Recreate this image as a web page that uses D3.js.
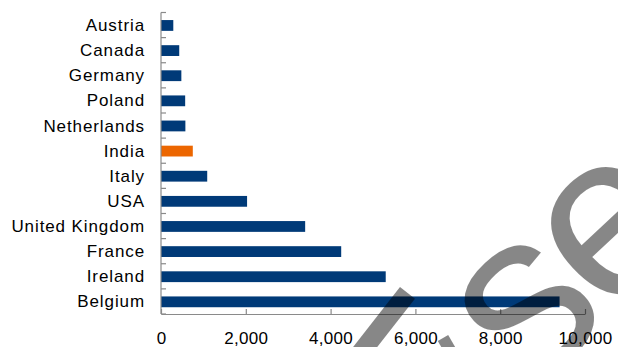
<!DOCTYPE html>
<html>
<head>
<meta charset="utf-8">
<script src="https://cdn.jsdelivr.net/npm/d3@7"></script>
<style>
  html, body { margin: 0; padding: 0; background: #fff; }
  svg { display: block; }
  text { font-family: "Liberation Sans", Arial, sans-serif; fill: #000; }
</style>
</head>
<body>
<svg id="chart" width="618" height="347"></svg>
<script>
// Countries, top to bottom
const categories = ["Austria", "Canada", "Germany", "Poland", "Netherlands", "India",
                    "Italy", "USA", "United Kingdom", "France", "Ireland", "Belgium"];
// Value per country
const values = [290, 430, 480, 570, 575, 750, 1090, 2030, 3400, 4250, 5300, 9400];
// Country drawn in the accent colour
const highlight = "India";
// Horizontal axis ticks
const tickValues = [0, 2000, 4000, 6000, 8000, 10000];

const svg = d3.select("#chart");
const plotLeft = 161, plotRight = 585, plotTop = 12.5, plotBottom = 314;

const x = d3.scaleLinear().domain([0, 10000]).range([plotLeft, plotRight]);
const y = d3.scaleBand().domain(categories).range([plotTop, plotBottom]).paddingInner(0).paddingOuter(0);
const barH = y.bandwidth() * 0.43;

const blue = "#003a78", orange = "#ec6600", axisGrey = "#8a8a8a";

// Bars
svg.append("g").selectAll("rect")
  .data(categories.map((c, i) => ({ c, v: values[i] })))
  .join("rect")
  .attr("x", x(0))
  .attr("y", d => y(d.c) + (y.bandwidth() - barH) / 2 + 0.4)
  .attr("width", d => x(d.v) - x(0))
  .attr("height", barH)
  .attr("fill", d => d.c === highlight ? orange : blue);

// Category axis: line plus ticks at band boundaries pointing inward
const gy = svg.append("g");
gy.append("line")
  .attr("x1", plotLeft).attr("x2", plotLeft)
  .attr("y1", plotTop).attr("y2", plotBottom)
  .attr("stroke", axisGrey).attr("stroke-width", 1.2);
const bounds = categories.map(c => y(c)).concat([plotBottom]);
gy.selectAll("line.tick").data(bounds).join("line")
  .attr("class", "tick")
  .attr("x1", plotLeft).attr("x2", plotLeft + 5)
  .attr("y1", d => d).attr("y2", d => d)
  .attr("stroke", axisGrey).attr("stroke-width", 1.2);
gy.selectAll("text").data(categories).join("text")
  .attr("x", 145)
  .attr("y", d => y(d) + y.bandwidth() / 2)
  .attr("dy", "0.35em")
  .attr("text-anchor", "end")
  .style("font-size", "17px")
  .style("letter-spacing", "0.9px")
  .text(d => d);

// Value axis
const xAxis = d3.axisBottom(x)
  .tickValues(tickValues)
  .tickFormat(d3.format(","))
  .tickSizeInner(-5)
  .tickSizeOuter(0)
  .tickPadding(18);
const gx = svg.append("g").attr("transform", `translate(0,${plotBottom})`).call(xAxis);
gx.select(".domain").attr("stroke", axisGrey).attr("stroke-width", 1.2);
gx.selectAll(".tick line").attr("stroke", axisGrey).attr("stroke-width", 1.2);
gx.selectAll(".tick text")
  .style("font-family", '"Liberation Sans", Arial, sans-serif')
  .style("font-size", "17px")
  .style("letter-spacing", "0.3px")
  .attr("fill", "#000");

// Diagonal watermark overlay
const wm = svg.append("g").attr("fill", "#000").attr("fill-opacity", 0.47);
wm.append("rect")
  .attr("transform", "translate(400,287) rotate(-52)")
  .attr("x", -200).attr("y", 0).attr("width", 200).attr("height", 19);
wm.append("rect")
  .attr("transform", "translate(443,338) rotate(60)")
  .attr("x", 0).attr("y", -6).attr("width", 30).attr("height", 12);
wm.append("text")
  .attr("transform", "translate(528,396) rotate(-43)")
  .style("font-size", "236px")
  .style("letter-spacing", "-8px")
  .style("fill", "#000")
  .text("se");
</script>
</body>
</html>
